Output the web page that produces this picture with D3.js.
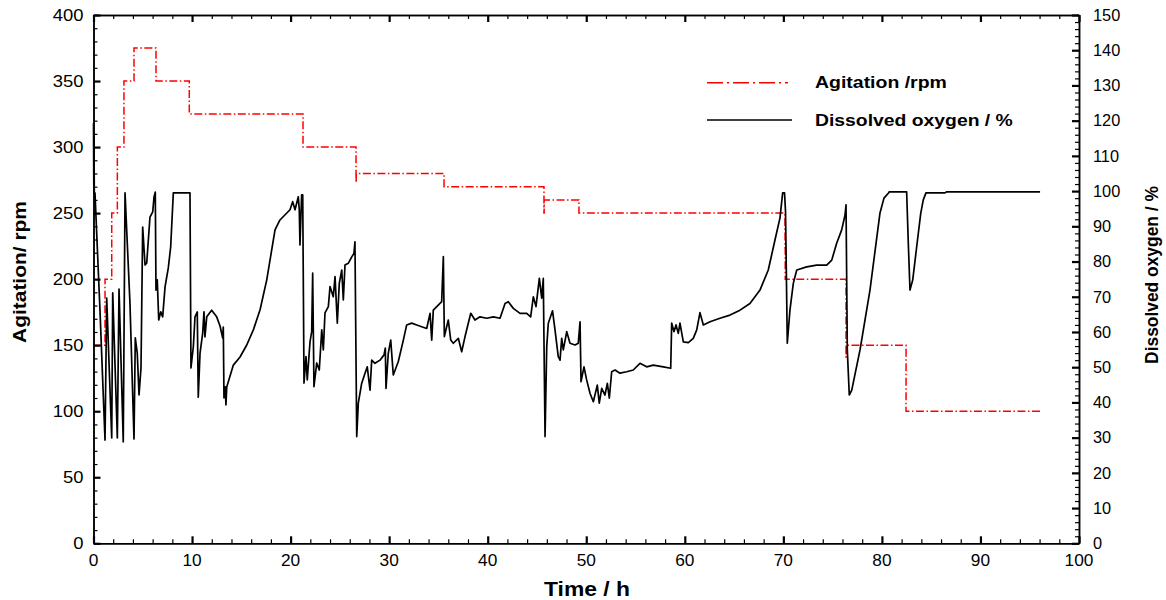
<!DOCTYPE html>
<html>
<head>
<meta charset="utf-8">
<script src="https://cdn.jsdelivr.net/npm/d3@7"></script>
<style>
  body { margin: 0; background: #fff; }
  svg { display: block; }
  text { font-family: "Liberation Sans", Arial, Helvetica, sans-serif; fill: #000; }
</style>
</head>
<body>
<svg id="chart" width="1166" height="600"></svg>
<script>
// Agitation set-point steps (rpm), piecewise constant from each time onward
const agitationHours = [0, 1.17, 1.85, 2.42, 3.09, 4.11, 6.34, 9.72, 21.26, 26.64, 26.66, 35.57,
  45.71, 45.73, 49.26, 70.17, 70.19, 76.36, 76.38, 82.45, 96.25];
const agitationRpm = [150, 200, 250, 300, 350, 375, 350, 325, 300, 273, 280, 270,
  250, 260, 250, 224, 200, 141, 150, 100, 100];

// Dissolved oxygen record (% saturation) against culture time (h)
const doHours = [
  0, 0.03, 0.05, 0.08, 0.15, 0.66, 1.17, 1.34, 1.85, 1.95,
  2.42, 2.59, 3.02, 3.20, 3.70, 4.11, 4.24, 4.44, 4.62, 4.82,
  4.99, 5.23, 5.40, 5.73, 6.01, 6.14, 6.27, 6.34, 6.47, 6.62,
  6.82, 7.02, 7.26, 7.59, 7.83, 8.10, 9.79, 9.89, 10.13, 10.30,
  10.53, 10.63, 10.81, 11.08, 11.21, 11.31, 11.49, 11.99, 12.50, 12.84,
  13.11, 13.17, 13.24, 13.37, 13.44, 13.52, 14.19, 14.87, 15.55, 16.22,
  16.90, 17.58, 18.42, 18.92, 19.94, 20.21, 20.45, 20.78, 20.88, 20.95,
  21.12, 21.23, 21.36, 21.56, 21.69, 21.97, 22.14, 22.24, 22.37, 22.65,
  22.91, 23.16, 23.32, 23.49, 23.83, 24.00, 24.33, 24.51, 24.74, 24.94,
  25.19, 25.35, 25.52, 25.85, 26.22, 26.43, 26.53, 26.71, 26.87, 27.21,
  27.55, 27.78, 28.06, 28.23, 28.56, 29.07, 29.48, 29.61, 29.68, 29.91,
  30.16, 30.42, 30.93, 31.44, 31.78, 32.29, 32.80, 33.30, 33.81, 34.15,
  34.32, 34.48, 34.83, 35.33, 35.50, 35.60, 36.00, 36.25, 36.51, 37.02,
  37.36, 37.70, 38.28, 38.71, 39.22, 39.90, 40.57, 41.25, 41.76, 42.09,
  42.60, 43.28, 43.96, 44.36, 44.63, 44.90, 45.24, 45.48, 45.64, 45.82,
  45.99, 46.15, 46.58, 46.83, 47.16, 47.34, 47.51, 47.67, 48.02, 48.35,
  48.86, 49.19, 49.37, 49.47, 49.77, 50.04, 50.38, 50.72, 51.12, 51.32,
  51.57, 51.90, 52.14, 52.34, 52.58, 52.92, 53.42, 54.10, 54.77, 55.45,
  56.13, 56.80, 57.82, 58.57, 58.67, 58.90, 59.11, 59.34, 59.51, 59.85,
  60.36, 60.86, 61.21, 61.54, 61.88, 62.56, 63.57, 64.59, 65.60, 66.61,
  67.63, 68.47, 69.15, 69.66, 69.93, 70.12, 70.22, 70.40, 70.67, 71.01,
  71.36, 72.37, 73.38, 74.40, 74.91, 75.41, 75.92, 76.26, 76.36, 76.49,
  76.69, 76.94, 77.78, 78.79, 79.80, 80.21, 80.65, 80.75, 82.51, 82.68,
  82.85, 83.13, 83.53, 83.94, 84.20, 84.47, 86.40, 86.58, 96.05
];
const doPercent = [
  119.3, 101.7, 115.4, 99.5, 99.5, 66.0, 29.3, 69.6, 29.9, 71.1,
  29.9, 72.2, 28.8, 99.5, 68.2, 29.6, 58.3, 54.0, 42.1, 49.8,
  89.8, 79.0, 79.6, 92.6, 94.1, 98.3, 99.7, 71.9, 74.8, 63.4,
  65.7, 64.3, 72.8, 78.2, 84.1, 99.5, 99.5, 49.8, 55.8, 64.3,
  65.7, 41.5, 54.0, 59.7, 65.7, 58.6, 64.3, 66.2, 64.3, 61.7,
  58.3, 61.4, 41.3, 44.4, 39.3, 44.4, 50.6, 52.9, 56.3, 60.6,
  66.3, 74.8, 89.0, 91.8, 94.7, 97.0, 94.7, 98.4, 94.7, 84.7,
  98.9, 98.9, 45.5, 53.0, 46.4, 57.2, 60.1, 76.7, 44.5, 51.2,
  49.2, 60.6, 54.9, 65.4, 67.2, 72.9, 70.0, 75.7, 62.5, 73.8,
  77.6, 69.1, 79.0, 79.5, 81.4, 82.3, 85.6, 30.3, 39.8, 45.4,
  48.3, 50.1, 43.5, 52.0, 51.1, 52.0, 53.5, 55.4, 44.0, 53.9,
  57.7, 47.8, 51.6, 57.7, 62.0, 62.5, 62.0, 61.5, 61.0, 65.3,
  57.7, 66.2, 67.2, 68.6, 81.4, 58.7, 63.4, 57.7, 56.8, 58.2,
  54.4, 58.7, 65.3, 63.4, 64.3, 63.9, 64.3, 63.9, 68.1, 68.6,
  66.7, 65.3, 65.3, 64.3, 70.0, 67.2, 75.2, 69.6, 75.2, 30.3,
  55.8, 62.5, 66.0, 60.6, 53.0, 52.0, 58.2, 54.9, 60.1, 56.8,
  56.3, 56.8, 62.9, 45.9, 50.1, 46.4, 42.6, 40.2, 44.9, 39.8,
  44.0, 42.1, 45.4, 41.2, 48.7, 49.2, 48.3, 48.7, 49.2, 51.1,
  50.1, 50.6, 50.1, 49.7, 62.5, 60.1, 62.0, 59.6, 62.5, 57.2,
  57.0, 58.2, 60.6, 65.5, 62.0, 62.9, 63.9, 64.8, 66.2, 68.1,
  71.9, 77.6, 86.1, 92.4, 99.5, 99.5, 94.2, 56.8, 66.2, 73.8,
  77.6, 78.5, 79.0, 79.0, 80.4, 85.2, 89.0, 93.2, 96.1, 54.9,
  42.1, 43.5, 54.9, 71.9, 93.7, 98.0, 99.4, 99.8, 99.8, 85.2,
  71.9, 74.8, 84.2, 93.7, 97.5, 99.5, 99.5, 99.8, 99.8
];

// Axis ticks
const timeTicks = d3.range(0, 101, 10);
const timeMinorTicks = d3.range(0, 101, 2).filter(v => v % 10 !== 0);
const rpmTicks = d3.range(0, 401, 50);
const rpmMinorTicks = d3.range(0, 401, 10).filter(v => v % 50 !== 0);
const doTicks = d3.range(0, 151, 10);
const doMinorTicks = d3.range(0, 151, 2).filter(v => v % 10 !== 0);

const xTitle = "Time / h";
const yLeftTitle = "Agitation/ rpm";
const yRightTitle = "Dissolved oxygen / %";
const legendLabels = ["Agitation /rpm", "Dissolved oxygen / %"];

// ---- layout ----
const plot = { left: 93.5, right: 1079, top: 15, bottom: 543.3 };
const svg = d3.select("#chart");

const x = d3.scaleLinear().domain([0, 100]).range([plot.left, plot.right]);
const yRpm = d3.scaleLinear().domain([0, 400]).range([plot.bottom, plot.top]);
const yDo = d3.scaleLinear().domain([0, 150]).range([plot.bottom, plot.top]);

// text helper: horizontally stretched glyphs, optional rotation, optional fixed length
function addText(g, px, py, str, o) {
  const t = g.append("text")
    .text(str)
    .attr("text-anchor", o.anchor || "start")
    .attr("dy", o.dy || 0)
    .style("font-size", o.size + "px")
    .style("font-weight", o.bold ? "bold" : "normal");
  let sx = o.sx || 1;
  if (o.length) sx = o.length / t.node().getComputedTextLength();
  t.attr("transform", `translate(${px},${py})${o.rotate ? " rotate(" + o.rotate + ")" : ""} scale(${sx},1)`);
  return t;
}

// ---- series ----
const agitationLine = d3.line()
  .x((d, i) => x(agitationHours[i]))
  .y(d => yRpm(d))
  .curve(d3.curveStepAfter);

svg.append("path")
  .datum(agitationRpm)
  .attr("d", agitationLine)
  .attr("fill", "none")
  .attr("stroke", "#ff0000")
  .attr("stroke-width", 1.5)
  .attr("stroke-dasharray", "8,2.5,1.5,2.5");

const n = Math.min(doHours.length, doPercent.length);
const doLine = d3.line()
  .x((d, i) => x(doHours[i]))
  .y(d => yDo(d));

svg.append("path")
  .datum(doPercent.slice(0, n))
  .attr("d", doLine)
  .attr("fill", "none")
  .attr("stroke", "#000")
  .attr("stroke-width", 1.7)
  .attr("stroke-linejoin", "round");

// ---- axes (ticks point inward) ----
function drawAxis(axis, tx, ty, width) {
  const g = svg.append("g").attr("transform", `translate(${tx},${ty})`).call(axis);
  g.selectAll("text").remove();
  g.select(".domain").attr("stroke", "#000").attr("stroke-width", 1.5);
  g.selectAll(".tick line").attr("stroke", "#000").attr("stroke-width", width);
  return g;
}

drawAxis(d3.axisBottom(x).tickValues(timeMinorTicks).tickSize(-4).tickSizeOuter(0), 0, plot.bottom, 1.2);
drawAxis(d3.axisBottom(x).tickValues(timeTicks).tickSize(-7).tickSizeOuter(0), 0, plot.bottom, 2.2);
drawAxis(d3.axisTop(x).tickValues(timeMinorTicks).tickSize(-4).tickSizeOuter(0), 0, plot.top, 1.2);
drawAxis(d3.axisTop(x).tickValues(timeTicks).tickSize(-7).tickSizeOuter(0), 0, plot.top, 2.2);
drawAxis(d3.axisLeft(yRpm).tickValues(rpmMinorTicks).tickSize(-4).tickSizeOuter(0), plot.left, 0, 1.2);
drawAxis(d3.axisLeft(yRpm).tickValues(rpmTicks).tickSize(-7).tickSizeOuter(0), plot.left, 0, 2.2);
drawAxis(d3.axisRight(yDo).tickValues(doMinorTicks).tickSize(-4).tickSizeOuter(0), plot.right, 0, 1.2);
drawAxis(d3.axisRight(yDo).tickValues(doTicks).tickSize(-7).tickSizeOuter(0), plot.right, 0, 2.2);

// ---- tick labels ----
const labels = svg.append("g");
timeTicks.forEach(v => addText(labels, x(v), 566, d3.format("d")(v), { anchor: "middle", size: 16, sx: 1.08 }));
rpmTicks.forEach(v => addText(labels, plot.left - 10, yRpm(v), d3.format("d")(v), { anchor: "end", size: 16, sx: 1.15, dy: "0.36em" }));
doTicks.forEach(v => addText(labels, plot.right + 14, yDo(v), d3.format("d")(v), { anchor: "start", size: 16, sx: 1.02, dy: "0.36em" }));

// ---- axis titles ----
addText(svg, 587, 596, xTitle, { anchor: "middle", size: 19.5, bold: true, length: 86 });
addText(svg, 26, 272, yLeftTitle, { anchor: "middle", size: 17.5, bold: true, rotate: -90, length: 142 });
addText(svg, 1158, 275, yRightTitle, { anchor: "middle", size: 18, bold: true, rotate: -90, length: 178 });

// ---- legend ----
const legend = svg.append("g");
legend.append("line")
  .attr("x1", 707).attr("x2", 788).attr("y1", 82.7).attr("y2", 82.7)
  .attr("stroke", "#ff0000").attr("stroke-width", 1.5)
  .attr("stroke-dasharray", "16,4,2,4");
legend.append("line")
  .attr("x1", 707).attr("x2", 792).attr("y1", 120).attr("y2", 120)
  .attr("stroke", "#000").attr("stroke-width", 1.5);
addText(legend, 815, 87.5, legendLabels[0], { size: 16.5, bold: true, length: 132 });
addText(legend, 815, 125.5, legendLabels[1], { size: 16.5, bold: true, length: 198 });
</script>
</body>
</html>
